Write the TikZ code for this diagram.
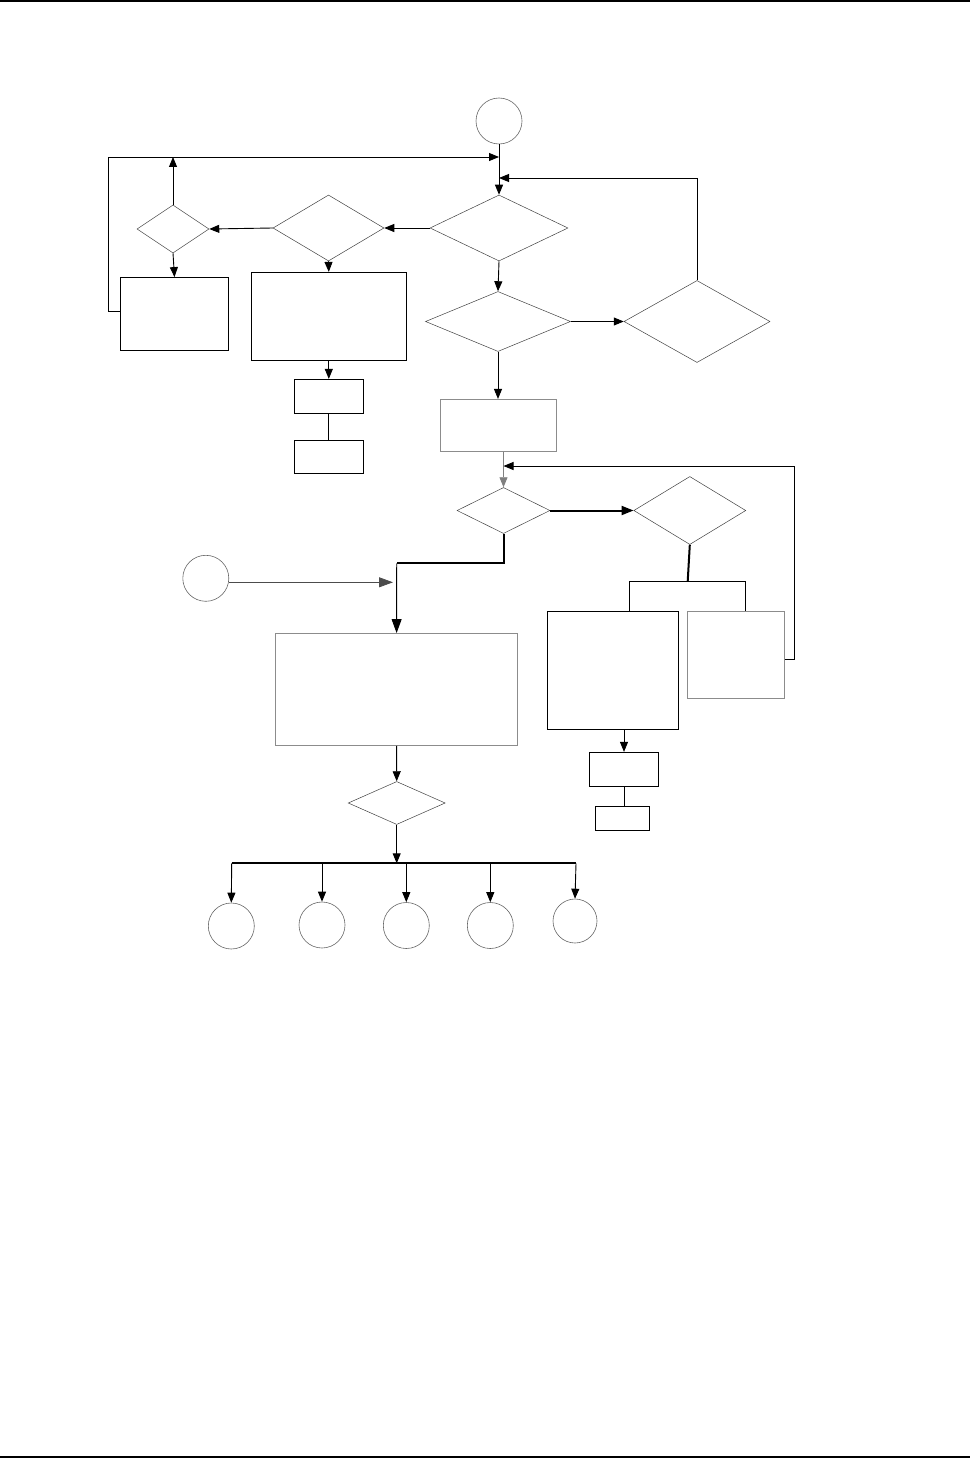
\documentclass[tikz,border=0pt]{standalone}
\usetikzlibrary{shapes.geometric,arrows.meta}
\begin{document}
\begin{tikzpicture}[x=1pt,y=-1pt,
  dia/.style={draw=black!75,line width=0.5pt,diamond,inner sep=0pt},
  boxk/.style={draw=black,line width=0.8pt,rectangle,inner sep=0pt},
  boxg/.style={draw=black!45,line width=0.9pt,rectangle,inner sep=0pt},
  circ/.style={draw=black!60,line width=0.6pt,circle,inner sep=0pt,minimum size=46pt},
  conn/.style={draw=black,line width=0.9pt},
  thick2/.style={draw=black,line width=2pt},
  arr/.style={-{Triangle[length=10pt,width=8pt]}},
  bigarr/.style={-{Triangle[length=14pt,width=10pt]}}]
\useasboundingbox (0,0) rectangle (970,1458);
\fill[black] (0,0) rectangle (970,2);
\fill[black] (0,1456) rectangle (970,1458);

% nodes
\node[circ] (c1) at (499,121) {};
\node[dia,minimum width=138pt,minimum height=66pt] (d1) at (499,228) {};
\node[dia,minimum width=111pt,minimum height=66pt] (d2) at (328.5,228) {};
\node[dia,minimum width=72pt,minimum height=48pt] (d3) at (173,229) {};
\node[boxk,minimum width=108pt,minimum height=73pt] (b1) at (174.5,314) {};
\node[boxk,minimum width=155pt,minimum height=88pt] (b2) at (328.8,316.3) {};
\node[boxk,minimum width=69pt,minimum height=34pt] (b3) at (328.8,396.3) {};
\node[boxk,minimum width=69pt,minimum height=33pt] (b4) at (328.8,456.8) {};
\node[dia,minimum width=145pt,minimum height=60pt] (d4) at (498,321.5) {};
\node[dia,minimum width=146pt,minimum height=82pt] (d5) at (697,321.5) {};
\node[boxg,minimum width=116pt,minimum height=52pt] (b5) at (498.5,425.4) {};
\node[dia,minimum width=93pt,minimum height=46pt] (d6) at (503.5,510.5) {};
\node[dia,minimum width=112pt,minimum height=68pt] (d7) at (689.8,510.5) {};
\node[boxk,minimum width=131pt,minimum height=118pt] (b6) at (613,670.4) {};
\node[boxg,minimum width=97pt,minimum height=87pt] (b7) at (735.8,654.8) {};
\node[circ] (c2) at (205.8,578.3) {};
\node[boxg,minimum width=242pt,minimum height=112pt] (b8) at (396.6,689.5) {};
\node[dia,minimum width=97pt,minimum height=43pt] (d8) at (396.7,803) {};
\node[boxk,minimum width=69pt,minimum height=34pt] (b9) at (624,769.3) {};
\node[boxk,minimum width=54pt,minimum height=24pt] (b10) at (622.3,818.8) {};
\node[circ] (c3) at (231.3,926) {};
\node[circ] (c4) at (322,925) {};
\node[circ] (c5) at (406.3,925.5) {};
\node[circ] (c6) at (490.3,925.5) {};
\node[circ,minimum size=44pt] (c7) at (575,921) {};

% junction coordinates
\coordinate (j1) at (499,157);
\coordinate (j2) at (499,178);
\coordinate (j3) at (503.5,466);
\coordinate (j4) at (687.7,581.4);
\coordinate (bra) at (629.3,581.4);
\coordinate (brb) at (745.3,581.4);
\coordinate (j5) at (393,582.3);
\coordinate (j6) at (396.7,563.3);
\coordinate (bus) at (396.7,863.3);
\coordinate (busl) at (231.7,863.3);
\coordinate (busr) at (576,863.3);

% connectors top part
\draw[conn,arr] (c1.south) -- (d1.north);
\draw[conn,arr] ([yshift=3pt]b1.west) -- ++(-12,0) |- (j1);
\draw[conn,arr] (d3.north) -- (d3.north |- j1);
\draw[conn,arr] (d1.west) -- (d2.east);
\draw[conn,arr] (d2.west) -- (d3.east);
\draw[conn,arr] (d3.south) -- (b1.north);
\draw[conn,arr] (d2.south) -- (b2.north);
\draw[conn,arr] (b2.south) -- (b3.north);
\draw[conn] (b3.south) -- (b4.north);
\draw[conn,arr] (d1.south) -- (d4.north);
\draw[conn,arr] (d4.east) -- (d5.west);
\draw[conn,arr] (d5.north) |- (j2);
\draw[conn,arr] (d4.south) -- (b5.north -| d4.south);
\draw[draw=black!50,line width=0.9pt,arr] (b5.south -| d6.north) -- (d6.north);
\draw[conn,arr] ([yshift=-5pt]b7.east) -- ++(10,0) |- (j3);

% middle part
\draw[thick2,-{Triangle[length=12pt,width=9pt]}] (d6.east) -- (d7.west);
\draw[thick2] (d7.south) -- (j4);
\draw[conn] (bra) -- (brb);
\draw[conn] (bra) -- (bra |- b6.north);
\draw[conn] (brb) -- (brb |- b7.north);
\draw[thick2] (d6.south) |- (j6);
\draw[conn,bigarr] (j6) -- (b8.north);
\draw[draw=black!70,line width=0.8pt,bigarr] (c2.east |- j5) -- (j5);
\draw[conn,arr] (b8.south) -- (d8.north);
\draw[conn,arr] (d8.south) -- (bus);
\draw[thick2] (busl) -- (busr);
\draw[conn,arr] (busl) -- (c3.north);
\draw[conn,arr] (c4.north |- bus) -- (c4.north);
\draw[conn,arr] (c5.north |- bus) -- (c5.north);
\draw[conn,arr] (c6.north |- bus) -- (c6.north);
\draw[conn,arr] (busr) -- (c7.north);
\draw[conn,arr] (b9.north |- b6.south) -- (b9.north);
\draw[conn] (b9.south) -- (b9.south |- b10.north);
\end{tikzpicture}
\end{document}
